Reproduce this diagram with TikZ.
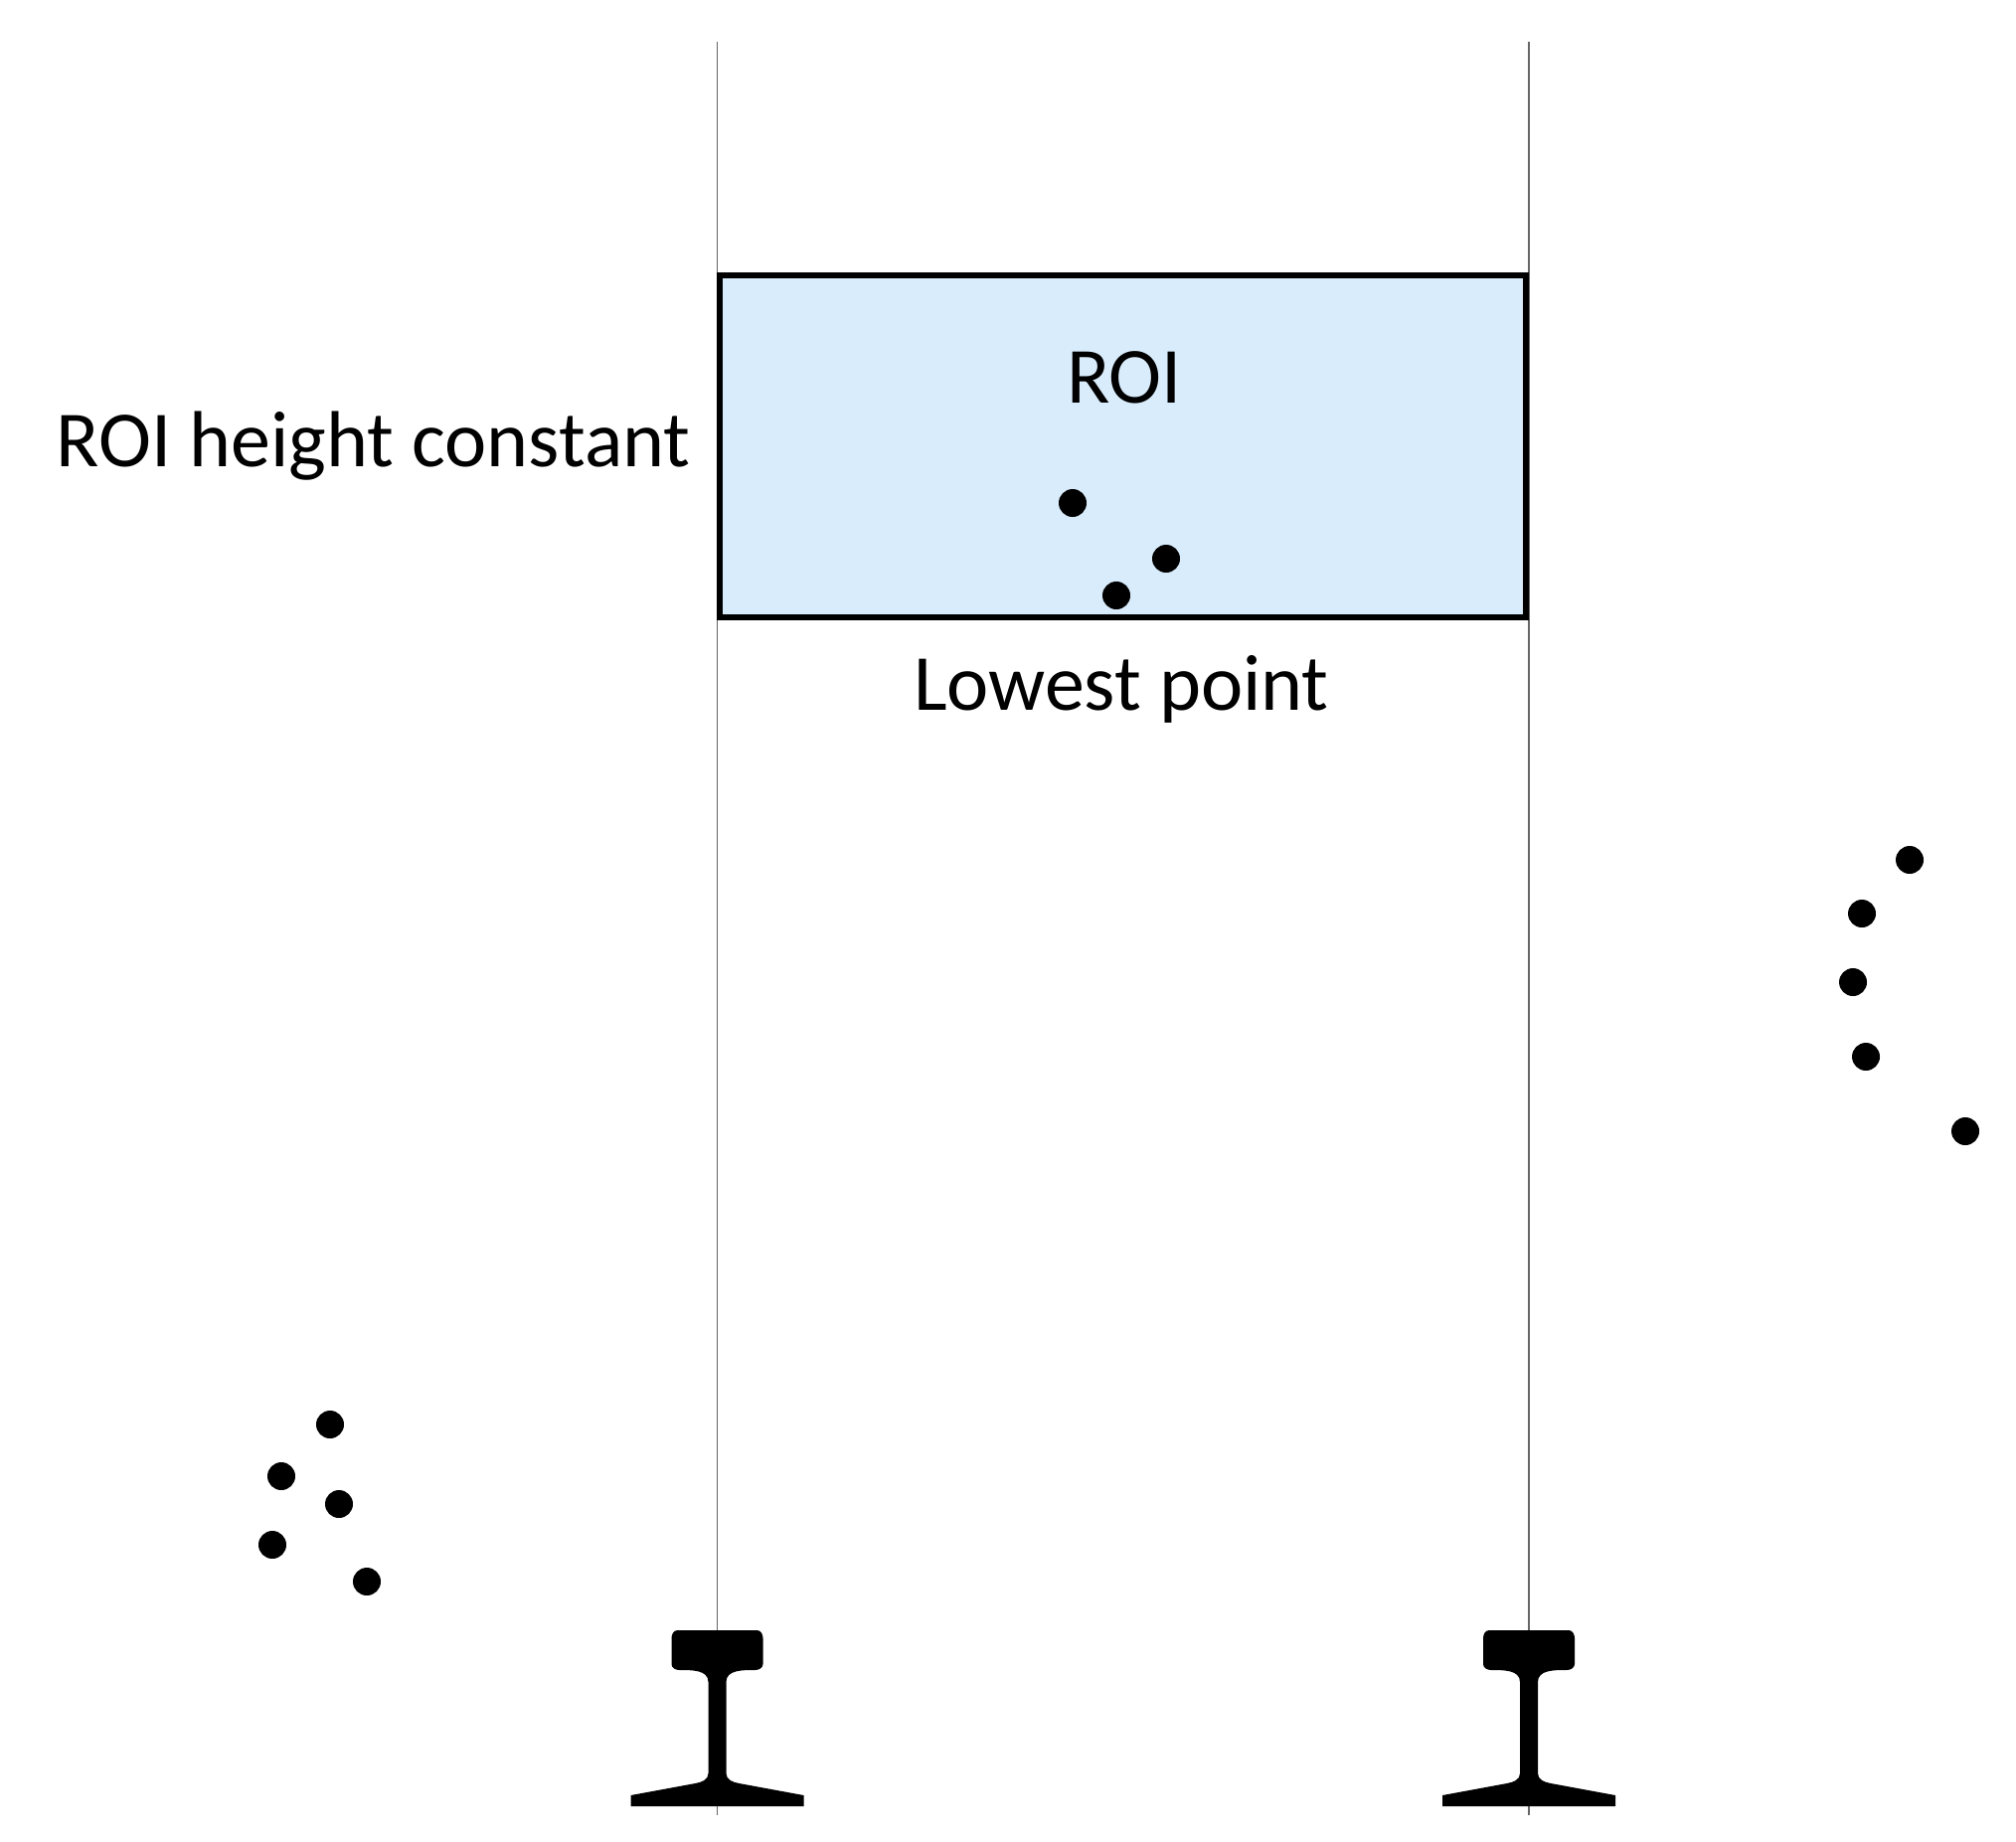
\documentclass[tikz,border=0pt]{standalone}
\usepackage{fontspec}
\setmainfont{Carlito}
\definecolor{roiblue}{HTML}{D9ECFB}
\begin{document}
\begin{tikzpicture}[x=0.5pt,y=-0.5pt,
  dot/.style={circle,fill=black,inner sep=0pt,minimum size=14pt},
  lbl/.style={font=\fontsize{40}{48}\selectfont,inner sep=0pt},
  guide/.style={draw=gray!80!black,line width=0.6pt}]
\useasboundingbox (0,0) rectangle (2028,1852);
\draw[guide] (721.5,42) coordinate (l1) -- (721.5,1826) coordinate (l2);
\draw[guide] (1538,42) coordinate (r1) -- (1538,1826) coordinate (r2);
\node[draw=black,line width=2.6pt,fill=roiblue,minimum width=405.5pt,minimum height=172pt,inner sep=0pt] (roi) at (1129.5,449) {};
\node[lbl] (roit) at (1131,380) {ROI};
\node[lbl,anchor=east] (hc) at (695,449) {ROI height constant};
\node[lbl] (lp) at (1128,693) {Lowest point};
\foreach \p [count=\i] in {(1079,506),(1173,562),(1123,599),(1921,865),(1873,919),(1864,988),(1877,1063),(1977,1138),(332,1433),(283,1485),(341,1513),(274,1554),(369,1591)}
  \node[dot] (d\i) at \p {};
\foreach \cx/\n in {721.5/a,1538/b}{
  \begin{scope}[shift={(\cx,0)}]
  \fill[black] (-40,1640) -- (40,1640) to[out=0,in=90] (46,1648) -- (46,1674)
    to[out=-90,in=0] (38,1680) to[out=180,in=90] (9,1692) -- (9,1784)
    to[out=-90,in=170] (22,1794) -- (87,1806) -- (87,1817) -- (-87,1817) -- (-87,1806)
    -- (-22,1794) to[out=10,in=-90] (-9,1784) -- (-9,1692)
    to[out=90,in=0] (-38,1680) to[out=180,in=-90] (-46,1674) -- (-46,1648)
    to[out=90,in=180] (-40,1640) -- cycle;
  \end{scope}
  \coordinate (rail\n) at (\cx,1728);
}
\end{tikzpicture}
\end{document}
